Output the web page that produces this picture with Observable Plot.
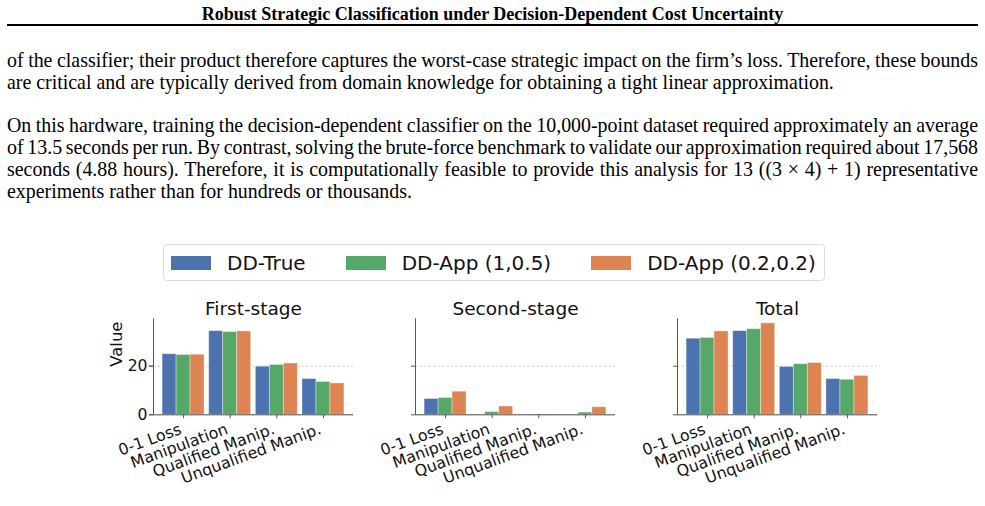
<!DOCTYPE html>
<html><head><meta charset="utf-8">
<script src="https://cdn.jsdelivr.net/npm/d3@7"></script>
<script src="https://cdn.jsdelivr.net/npm/@observablehq/plot@0.6"></script>
<style>
html,body{margin:0;padding:0;background:#fff;}
#page{position:relative;width:985px;height:506px;overflow:hidden;font-family:"Liberation Serif","Times New Roman",serif;color:#000;}
.hdr{position:absolute;left:0;width:985px;top:4px;text-align:center;font-weight:bold;font-size:18px;line-height:20px;white-space:nowrap;}
.rule{position:absolute;left:7px;width:971px;top:24px;height:2px;background:#000;}
.ln{position:absolute;left:7px;white-space:nowrap;font-size:19.9px;line-height:22px;}
#legend{position:absolute;left:163px;top:244px;height:37px;box-sizing:border-box;border:1px solid #dcdcdc;border-radius:4px;padding:0 8px 0 7px;display:flex;align-items:center;background:#fff;}
#legend > div{font-family:"DejaVu Sans",sans-serif !important;font-size:20px !important;margin:0 !important;min-height:0 !important;color:#111;flex-wrap:nowrap !important;}
#legend .lg-swatch{margin-right:40px !important;}
#legend .lg-swatch:last-of-type{margin-right:0 !important;}
#legend .lg-swatch > svg{margin-right:16px !important;}
#chart{position:absolute;left:0;top:290px;}
</style></head>
<body>
<div id="page">
  <div class="hdr">Robust Strategic Classification under Decision-Dependent Cost Uncertainty</div>
  <div class="rule"></div>
  <div class="ln j" style="top:48.5px"><span>of the classifier; their product therefore captures the worst-case strategic impact on the firm’s loss. Therefore, these bounds</span></div>
  <div class="ln" style="top:70.5px"><span>are critical and are typically derived from domain knowledge for obtaining a tight linear approximation.</span></div>
  <div class="ln j" style="top:114.3px"><span>On this hardware, training the decision-dependent classifier on the 10,000-point dataset required approximately an average</span></div>
  <div class="ln j" style="top:136.3px"><span>of 13.5 seconds per run. By contrast, solving the brute-force benchmark to validate our approximation required about 17,568</span></div>
  <div class="ln j" style="top:158.3px"><span>seconds (4.88 hours). Therefore, it is computationally feasible to provide this analysis for 13 ((3 × 4) + 1) representative</span></div>
  <div class="ln" style="top:180.3px"><span>experiments rather than for hundreds or thousands.</span></div>
  <div id="legend"></div>
  <div id="chart"></div>
</div>
<script>
const stages = ["First-stage", "Second-stage", "Total"];
const metrics = ["0-1 Loss", "Manipulation", "Qualified Manip.", "Unqualified Manip."];
const series = ["DD-True", "DD-App (1,0.5)", "DD-App (0.2,0.2)"];
const colors = ["#4C72B0", "#55A868", "#DD8452"];
// values[metric][series]
const firstStage  = [[24.9, 24.6, 24.7], [34.4, 34.0, 34.3], [19.8, 20.5, 21.1], [14.7, 13.5, 12.9]];
const secondStage = [[6.5, 6.9, 9.5], [0.0, 1.1, 3.4], [0.0, 0.15, 0.15], [0.0, 0.9, 3.1]];
const totalStage  = [[31.3, 31.6, 34.3], [34.4, 35.2, 37.6], [19.7, 20.8, 21.3], [14.7, 14.4, 16.0]];
const yTicks = [0, 20];
const yLabel = "Value";

// justify text lines
document.querySelectorAll(".ln.j span").forEach(sp => {
  const w = sp.getBoundingClientRect().width;
  const n = (sp.textContent.match(/ /g) || []).length;
  sp.style.wordSpacing = ((971 - w) / n) + "px";
});

const byStage = [firstStage, secondStage, totalStage];
const rows = [];
stages.forEach((stage, k) => metrics.forEach((metric, m) => series.forEach((s, j) =>
  rows.push({stage, metric, m, series: s, j, value: byStage[k][m][j]}))));

const barW = 0.3;
const half = barW * series.length / 2;
const pad = 0.05 * (metrics.length - 1 + 2 * half);
const xDomain = [-half - pad, metrics.length - 1 + half + pad];
const yMax = d3.max(rows, d => d.value) * 1.05;
const idx = metrics.map((_, i) => i);
const axisColor = "#555";

const chart = Plot.plot({
  width: 985, height: 216,
  marginLeft: 151.7, marginRight: 107.7, marginTop: 28.3, marginBottom: 91.7,
  style: {fontFamily: '"DejaVu Sans", sans-serif', fontSize: "15.5px", color: "#111", background: "transparent", overflow: "visible"},
  fx: {domain: stages, paddingInner: 0.237, paddingOuter: 0, label: null},
  x: {domain: xDomain},
  y: {domain: [0, yMax]},
  color: {domain: series, range: colors},
  marks: [
    Plot.gridY(yTicks, {stroke: "#b0b0b0", strokeOpacity: 0.6, strokeDasharray: "2.5,2"}),
    Plot.rect(rows, {fx: "stage", x1: d => d.m - half + d.j * barW, x2: d => d.m - half + (d.j + 1) * barW,
      y1: 0, y2: "value", fill: "series", stroke: "white", strokeWidth: 0.8, strokeOpacity: 0.45}),
    Plot.ruleY([0], {stroke: axisColor}),
    Plot.ruleX([xDomain[0]], {stroke: axisColor}),
    Plot.ruleY(yTicks, {x1: xDomain[0], x2: xDomain[0], insetLeft: -4, stroke: axisColor}),
    Plot.axisY({ticks: yTicks, label: null, tickSize: 4, tickPadding: 2, fontSize: 15.6, stroke: axisColor, fill: "#111"}),
    Plot.axisX({ticks: idx, tickSize: 4, tickFormat: () => "", label: null, stroke: axisColor}),
    Plot.text(metrics, {x: (d, i) => i, text: d => d, frameAnchor: "bottom", textAnchor: "end", lineAnchor: "top",
      rotate: -20, dx: -5, dy: 8, fontSize: 15.8, fill: "#111"}),
    Plot.text([yLabel], {fx: () => stages[0], text: d => d, frameAnchor: "left", rotate: -90, dx: -37,
      fontSize: 16.5, lineAnchor: "middle", fill: "#111"}),
    Plot.axisFx({anchor: "top", label: null, tickSize: 0, tickPadding: 4, fontSize: 18.5, fill: "#111"})
  ]
});
document.getElementById("chart").appendChild(chart);

const lg = Plot.legend({color: {domain: series, range: colors}, swatchWidth: 40, swatchHeight: 14, className: "lg"});
document.getElementById("legend").appendChild(lg);
</script>
</body></html>
